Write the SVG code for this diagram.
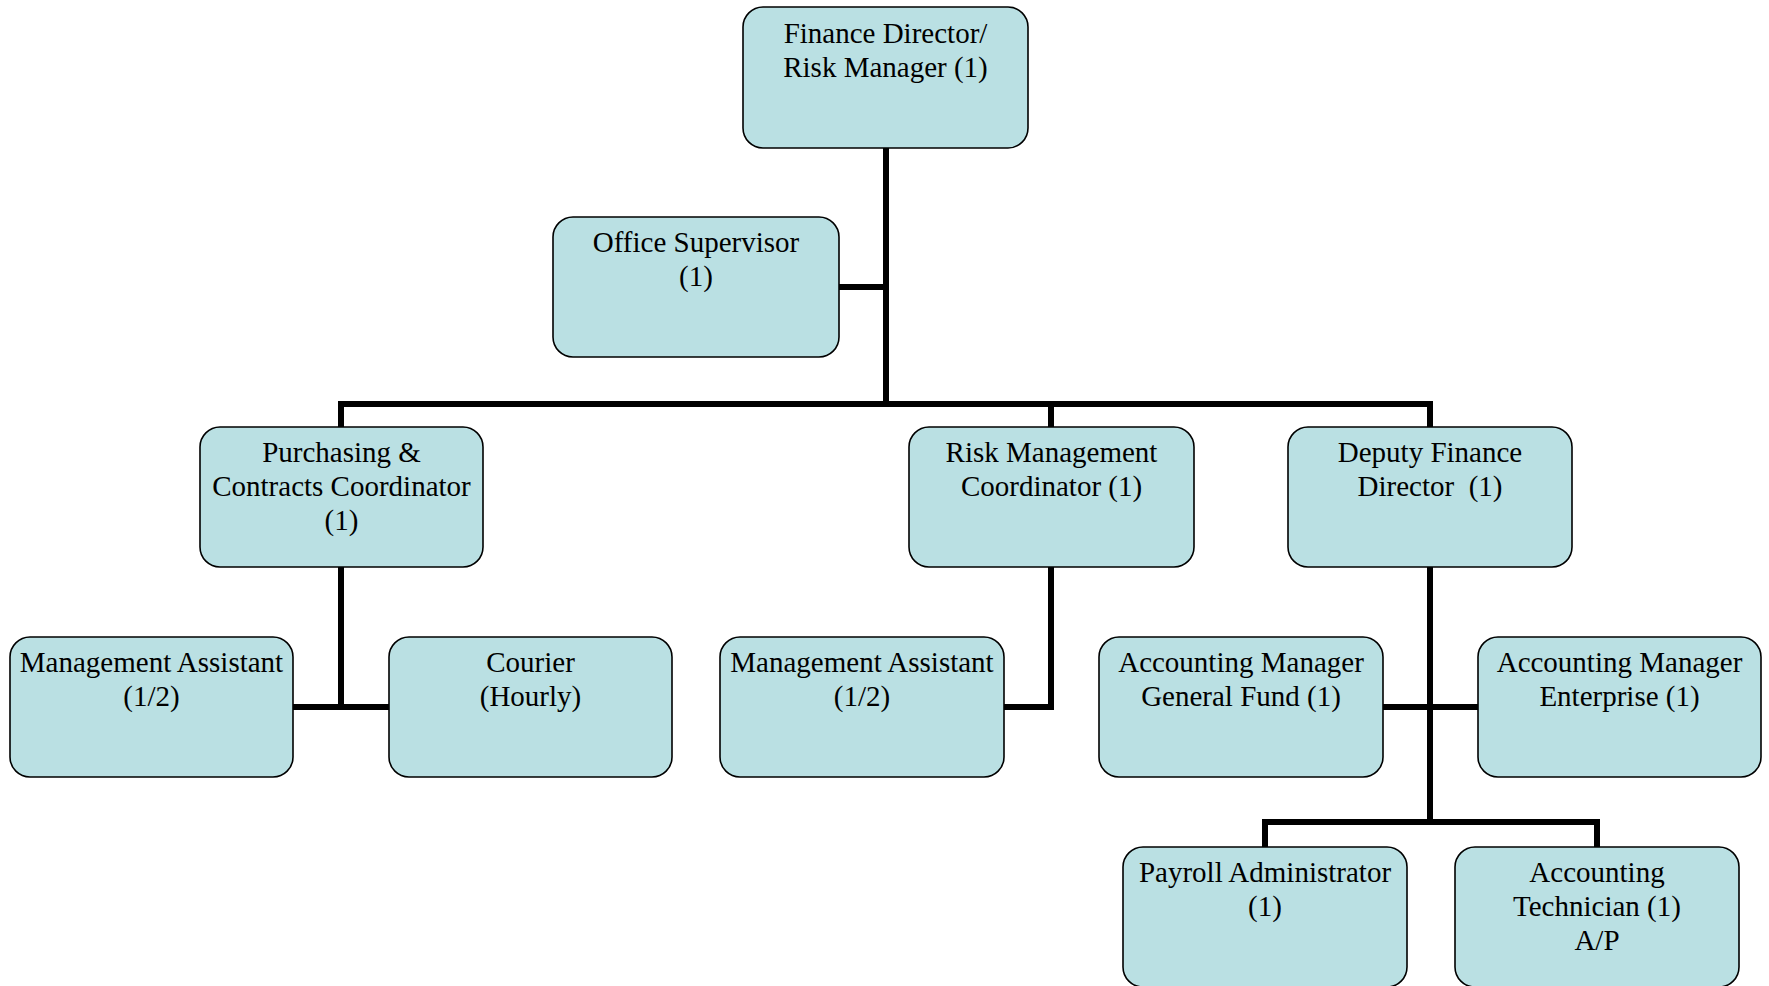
<svg xmlns="http://www.w3.org/2000/svg" width="1769" height="986" viewBox="0 0 1769 986">
<style>
.box{fill:#BAE0E3;stroke:#000;stroke-width:1.6}
.t{font-family:"Liberation Serif","Times New Roman",serif;font-size:29px;fill:#000;text-anchor:middle}
.c{fill:none;stroke:#000;stroke-width:6;stroke-linecap:butt;stroke-linejoin:miter}
</style>
<rect width="1769" height="986" fill="#fff"/>
<g id="connectors">
<path class="c" d="M886 148 V407"/>
<path class="c" d="M839 287 H886"/>
<path class="c" d="M341 430 V404 H1430 V430"/>
<path class="c" d="M1051 404 V430"/>
<path class="c" d="M341 567 V707"/>
<path class="c" d="M293 707 H389"/>
<path class="c" d="M1051 567 V707 H1004"/>
<path class="c" d="M1430 567 V822"/>
<path class="c" d="M1383 707 H1478"/>
<path class="c" d="M1265 849 V822 H1597 V849"/>
</g>
<g id="finance-director">
<rect class="box" x="743" y="7" width="285" height="141" rx="20"/>
<text class="t" x="885.5" y="43">Finance Director/</text>
<text class="t" x="885.5" y="77">Risk Manager (1)</text>
</g>
<g id="office-supervisor">
<rect class="box" x="553" y="217" width="286" height="140" rx="20"/>
<text class="t" x="696" y="252">Office Supervisor</text>
<text class="t" x="696" y="286">(1)</text>
</g>
<g id="purchasing">
<rect class="box" x="200" y="427" width="283" height="140" rx="20"/>
<text class="t" x="341.5" y="462">Purchasing &amp;</text>
<text class="t" x="341.5" y="496">Contracts Coordinator</text>
<text class="t" x="341.5" y="530">(1)</text>
</g>
<g id="risk-coordinator">
<rect class="box" x="909" y="427" width="285" height="140" rx="20"/>
<text class="t" x="1051.5" y="462">Risk Management</text>
<text class="t" x="1051.5" y="496">Coordinator (1)</text>
</g>
<g id="deputy-director">
<rect class="box" x="1288" y="427" width="284" height="140" rx="20"/>
<text class="t" x="1430" y="462">Deputy Finance</text>
<text class="t" x="1430" y="496">Director&#160; (1)</text>
</g>
<g id="mgmt-assistant-1">
<rect class="box" x="10" y="637" width="283" height="140" rx="20"/>
<text class="t" x="151.5" y="672">Management Assistant</text>
<text class="t" x="151.5" y="706">(1/2)</text>
</g>
<g id="courier">
<rect class="box" x="389" y="637" width="283" height="140" rx="20"/>
<text class="t" x="530.5" y="672">Courier</text>
<text class="t" x="530.5" y="706">(Hourly)</text>
</g>
<g id="mgmt-assistant-2">
<rect class="box" x="720" y="637" width="284" height="140" rx="20"/>
<text class="t" x="862" y="672">Management Assistant</text>
<text class="t" x="862" y="706">(1/2)</text>
</g>
<g id="acct-mgr-gf">
<rect class="box" x="1099" y="637" width="284" height="140" rx="20"/>
<text class="t" x="1241" y="672">Accounting Manager</text>
<text class="t" x="1241" y="706">General Fund (1)</text>
</g>
<g id="acct-mgr-ent">
<rect class="box" x="1478" y="637" width="283" height="140" rx="20"/>
<text class="t" x="1619.5" y="672">Accounting Manager</text>
<text class="t" x="1619.5" y="706">Enterprise (1)</text>
</g>
<g id="payroll">
<rect class="box" x="1123" y="847" width="284" height="140" rx="20"/>
<text class="t" x="1265" y="882">Payroll Administrator</text>
<text class="t" x="1265" y="916">(1)</text>
</g>
<g id="acct-tech">
<rect class="box" x="1455" y="847" width="284" height="140" rx="20"/>
<text class="t" x="1597" y="882">Accounting</text>
<text class="t" x="1597" y="916">Technician (1)</text>
<text class="t" x="1597" y="950">A/P</text>
</g>
</svg>
